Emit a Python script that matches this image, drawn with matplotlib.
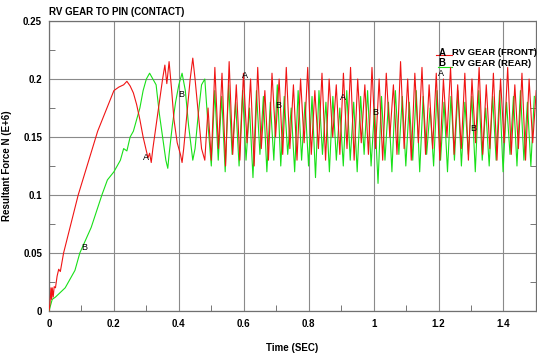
import matplotlib
matplotlib.use("Agg")
import matplotlib.pyplot as plt
import numpy as np

plt.rcParams['font.family'] = ['Liberation Sans', 'DejaVu Sans']

# early part of each curve (time, force)
front_t = [0.0, 0.003, 0.006, 0.008, 0.010, 0.013, 0.016, 0.020, 0.025, 0.030, 0.035,
           0.045, 0.09, 0.15, 0.20, 0.215, 0.23, 0.24, 0.25, 0.26, 0.27, 0.28, 0.29,
           0.30, 0.305, 0.31, 0.315, 0.32, 0.33, 0.34, 0.35, 0.357, 0.363, 0.37, 0.378,
           0.385, 0.395, 0.405, 0.41, 0.415, 0.425, 0.435, 0.443, 0.45, 0.46, 0.47, 0.48, 0.49]
front_v = [0.0, 0.006, 0.02, 0.01, 0.02, 0.012, 0.021, 0.02, 0.03, 0.036, 0.034,
           0.05, 0.10, 0.155, 0.19, 0.193, 0.195, 0.198, 0.194, 0.188, 0.178, 0.165, 0.15,
           0.138, 0.132, 0.136, 0.128, 0.14, 0.16, 0.18, 0.2, 0.212, 0.196, 0.215, 0.19,
           0.165, 0.145, 0.135, 0.128, 0.14, 0.17, 0.2, 0.218, 0.2, 0.17, 0.14, 0.13, 0.175]

rear_t = [0.0, 0.01, 0.02, 0.05, 0.08, 0.095, 0.13, 0.163, 0.18, 0.20, 0.22, 0.23, 0.24,
          0.25, 0.26, 0.27, 0.28, 0.29, 0.30, 0.31, 0.32, 0.33, 0.34, 0.35, 0.36, 0.366,
          0.37, 0.38, 0.39, 0.40, 0.41, 0.42, 0.43, 0.443, 0.45, 0.46, 0.47, 0.48, 0.49]
rear_v = [0.0, 0.01, 0.012, 0.02, 0.035, 0.05, 0.072, 0.10, 0.113, 0.12, 0.13, 0.14, 0.138,
          0.15, 0.155, 0.165, 0.175, 0.19, 0.2, 0.205, 0.2, 0.195, 0.17, 0.15, 0.13, 0.123,
          0.135, 0.16, 0.18, 0.195, 0.205, 0.19, 0.16, 0.13, 0.14, 0.17, 0.195, 0.2, 0.16]

# steady oscillating part, alternating troughs and peaks from t = 0.5
front_osc = [0.13, 0.21, 0.14, 0.205, 0.125, 0.215, 0.135, 0.195, 0.13, 0.205,
             0.145, 0.2, 0.125, 0.21, 0.14, 0.19, 0.13, 0.205, 0.15, 0.2,
             0.135, 0.21, 0.14, 0.195, 0.13, 0.2, 0.145, 0.21, 0.135, 0.19,
             0.14, 0.205, 0.13, 0.2, 0.15, 0.195, 0.135, 0.205, 0.14, 0.21,
             0.13, 0.2, 0.145, 0.195, 0.135, 0.21, 0.14, 0.2, 0.13, 0.205,
             0.15, 0.195, 0.135, 0.215, 0.14, 0.2, 0.13, 0.205, 0.145, 0.21,
             0.135, 0.195, 0.14, 0.205, 0.13, 0.2, 0.15, 0.21, 0.135, 0.195,
             0.14, 0.205, 0.13, 0.2, 0.145, 0.21, 0.135, 0.195, 0.14, 0.205,
             0.13, 0.2, 0.145, 0.21, 0.135, 0.195, 0.14, 0.205, 0.13, 0.2, 0.145, 0.19]
rear_osc = [0.125, 0.19, 0.13, 0.185, 0.12, 0.195, 0.135, 0.18, 0.125, 0.19,
            0.13, 0.175, 0.115, 0.19, 0.135, 0.185, 0.12, 0.18, 0.13, 0.195,
            0.125, 0.185, 0.135, 0.175, 0.12, 0.19, 0.13, 0.18, 0.125, 0.185,
            0.115, 0.19, 0.135, 0.18, 0.12, 0.185, 0.13, 0.175, 0.125, 0.19,
            0.13, 0.18, 0.12, 0.185, 0.135, 0.19, 0.125, 0.175, 0.11, 0.185,
            0.13, 0.18, 0.12, 0.19, 0.135, 0.185, 0.125, 0.18, 0.13, 0.19,
            0.12, 0.185, 0.135, 0.175, 0.125, 0.19, 0.13, 0.18, 0.12, 0.185,
            0.13, 0.19, 0.125, 0.18, 0.135, 0.185, 0.12, 0.19, 0.13, 0.175,
            0.125, 0.185, 0.13, 0.19, 0.12, 0.18, 0.135, 0.185, 0.125, 0.19, 0.13, 0.18, 0.125, 0.185]

# letter markers along the curves
front_marks = [(0.300, 0.132), (0.603, 0.203), (0.905, 0.184), (1.208, 0.205)]
rear_marks = [(0.108, 0.055), (0.406, 0.187), (0.705, 0.177), (1.006, 0.171), (1.308, 0.157)]

x_ticks = [0, 0.2, 0.4, 0.6, 0.8, 1.0, 1.2, 1.4]
x_labels = ['0', '0.2', '0.4', '0.6', '0.8', '1', '1.2', '1.4']
y_ticks = [0, 0.05, 0.1, 0.15, 0.2, 0.25]
y_labels = ['0', '0.05', '0.1', '0.15', '0.2', '0.25']

red = '#f01414'
green = '#18e018'

t_front = np.concatenate([front_t, 0.5 + 0.011 * np.arange(len(front_osc))])
v_front = np.concatenate([front_v, front_osc])
t_rear = np.concatenate([rear_t, 0.5 + 0.0107 * np.arange(len(rear_osc))])
v_rear = np.concatenate([rear_v, rear_osc])

fig = plt.figure(figsize=(5.37, 3.53), dpi=100)
ax = fig.add_axes([0.0912, 0.119, 0.9068, 0.8215])

ax.plot(t_rear, v_rear, color=green, lw=0.8, zorder=3)
ax.plot(t_front, v_front, color=red, lw=0.8, zorder=4)

for x, y in front_marks:
    ax.text(x, y, 'A', fontsize=6.5, ha='center', va='center', zorder=6)
for x, y in rear_marks:
    ax.text(x, y, 'B', fontsize=6.5, ha='center', va='center', zorder=6)

ax.set_xlim(0, 1.5)
ax.set_ylim(0, 0.25)
ax.set_xticks(x_ticks)
ax.set_xticklabels(x_labels, fontsize=7, fontweight='bold')
ax.set_yticks(y_ticks)
ax.set_yticklabels(y_labels, fontsize=7, fontweight='bold')
ax.set_xticks(np.arange(0.1, 1.5, 0.2), minor=True)
ax.set_yticks(np.arange(0.025, 0.25, 0.05), minor=True)
ax.tick_params(which='major', length=0, pad=6)
ax.tick_params(axis='y', which='major', pad=5)
ax.tick_params(which='minor', direction='in', length=4, color='#606060', right=True)
ax.grid(True, which='major', color='#8a8a8a', lw=0.8, zorder=1)
for s in ax.spines.values():
    s.set_color('#707070')
    s.set_linewidth(0.9)

ax.set_xlabel('Time (SEC)', fontsize=7, fontweight='bold', labelpad=10)
ax.set_ylabel('Resultant Force N (E+6)', fontsize=7, fontweight='bold', labelpad=8)
fig.text(0.0912, 0.965, 'RV GEAR TO PIN (CONTACT)', fontsize=7, fontweight='bold',
         ha='left', va='center')

# legend drawn as in the original: letter, coloured dash, label
ax.plot([1.191, 1.24], [0.2207, 0.2207], color=red, lw=0.8, clip_on=False)
ax.plot([1.197, 1.24], [0.2103, 0.2103], color=green, lw=0.8, clip_on=False)
ax.text(1.21, 0.2227, 'A', fontsize=7, fontweight='bold', ha='center', va='center')
ax.text(1.21, 0.2135, 'B', fontsize=7, fontweight='bold', ha='center', va='center')
ax.text(1.243, 0.2227, 'RV GEAR (FRONT)', fontsize=6.8, fontweight='bold', ha='left', va='center')
ax.text(1.243, 0.2135, 'RV GEAR (REAR)', fontsize=6.8, fontweight='bold', ha='left', va='center')

fig.savefig('out.png', dpi=100)
